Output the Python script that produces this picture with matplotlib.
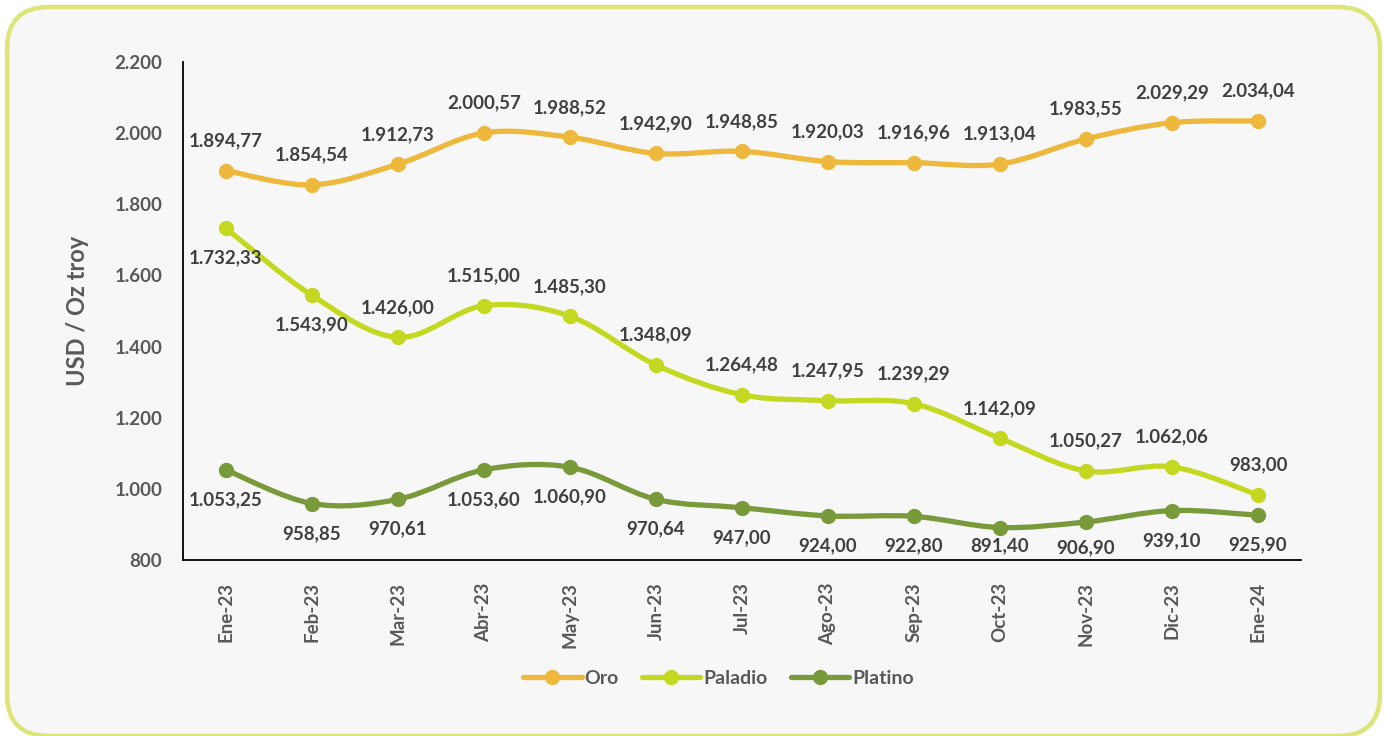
import matplotlib.pyplot as plt
import numpy as np
from matplotlib.path import Path
from matplotlib.patches import PathPatch, FancyBboxPatch
from matplotlib.lines import Line2D

plt.rcParams['font.family'] = ['Lato', 'DejaVu Sans']

meses = ['Ene-23', 'Feb-23', 'Mar-23', 'Abr-23', 'May-23', 'Jun-23', 'Jul-23',
         'Ago-23', 'Sep-23', 'Oct-23', 'Nov-23', 'Dic-23', 'Ene-24']
oro = [1894.77, 1854.54, 1912.73, 2000.57, 1988.52, 1942.90, 1948.85,
       1920.03, 1916.96, 1913.04, 1983.55, 2029.29, 2034.04]
paladio = [1732.33, 1543.90, 1426.00, 1515.00, 1485.30, 1348.09, 1264.48,
           1247.95, 1239.29, 1142.09, 1050.27, 1062.06, 983.00]
platino = [1053.25, 958.85, 970.61, 1053.60, 1060.90, 970.64, 947.00,
           924.00, 922.80, 891.40, 906.90, 939.10, 925.90]

# label above (+) or below (-) each point, as a fraction of the usual offset
pos_oro = [1] * 13
pos_paladio = [-1, -1, 1, 1, 1, 1, 1, 1, 1, 1, 1, 1, 1]
pos_platino = [-1, -1, -1, -1, -1, -1, -1, -1, -1, -0.6, -0.85, -1, -1]

c_oro = '#EDB83C'
c_pal = '#C4D821'
c_pla = '#799A3B'
txt = '#404040'
axc = '#595959'


def fmt(v):
    s = f'{v:,.2f}'
    return s.replace(',', 'X').replace('.', ',').replace('X', '.')


def smooth_path(x, y):
    # Excel-like smoothed line: cubic bezier through the points
    x = np.asarray(x, float)
    y = np.asarray(y, float)
    verts = [(x[0], y[0])]
    codes = [Path.MOVETO]
    n = len(x)
    for i in range(n - 1):
        x0, y0 = (x[i - 1], y[i - 1]) if i > 0 else (x[i], y[i])
        x3, y3 = (x[i + 2], y[i + 2]) if i + 2 < n else (x[i + 1], y[i + 1])
        c1 = (x[i] + (x[i + 1] - x0) / 6, y[i] + (y[i + 1] - y0) / 6)
        c2 = (x[i + 1] - (x3 - x[i]) / 6, y[i + 1] - (y3 - y[i]) / 6)
        verts += [c1, c2, (x[i + 1], y[i + 1])]
        codes += [Path.CURVE4] * 3
    return Path(verts, codes)


fig = plt.figure(figsize=(13.87, 7.36), dpi=100)
fig.patch.set_facecolor('white')
frame = FancyBboxPatch((0.07, 0.0), 13.73, 7.29,
                       boxstyle='round,pad=0,rounding_size=0.42',
                       transform=fig.dpi_scale_trans, facecolor='#F7F7F7',
                       edgecolor='#DCE47A', linewidth=3.2, zorder=-5)
fig.patches.append(frame)

ax = fig.add_axes([0.1319, 0.2391, 0.8061, 0.6767])
ax.set_facecolor('none')
ax.set_zorder(2)
x = np.arange(len(meses))

for vals, col, pos in [(oro, c_oro, pos_oro), (paladio, c_pal, pos_paladio),
                       (platino, c_pla, pos_platino)]:
    ax.add_patch(PathPatch(smooth_path(x, vals), facecolor='none',
                           edgecolor=col, linewidth=3.8, capstyle='round',
                           zorder=2))
    ax.plot(x, vals, linestyle='none', marker='o', markersize=10,
            color=col, zorder=3)
    for xi, v, p in zip(x, vals, pos):
        ax.annotate(fmt(v), (xi, v), xytext=(0, 21.5 * p), textcoords='offset points',
                    ha='center', va='center', fontsize=13.5, fontweight='bold',
                    color=txt, zorder=4)

ax.set_xlim(-0.5, len(meses) - 0.5)
ax.set_ylim(800, 2200)
ax.set_yticks(np.arange(800, 2201, 200))
ax.set_yticklabels([f'{int(v):,}'.replace(',', '.') for v in np.arange(800, 2201, 200)])
ax.set_xticks(x)
ax.set_xticklabels(meses, rotation=90)
ax.tick_params(axis='y', length=0, pad=15, labelsize=13.5, labelcolor=axc)
ax.tick_params(axis='x', length=0, pad=16, labelsize=13.5, labelcolor=axc)
for lab in ax.get_xticklabels() + ax.get_yticklabels():
    lab.set_fontweight('bold')
for s in ['top', 'right']:
    ax.spines[s].set_visible(False)
ax.spines['left'].set_linewidth(1.3)
ax.spines['bottom'].set_linewidth(1.3)
ax.set_ylabel('USD / Oz troy', fontsize=17, fontweight='bold', color=axc,
              labelpad=18)

handles = [Line2D([], [], color=c, linewidth=3.8, marker='o', markersize=10,
                  solid_capstyle='round') for c in (c_oro, c_pal, c_pla)]
fig.legend(handles, ['Oro', 'Paladio', 'Platino'], loc='center',
           bbox_to_anchor=(0.518, 0.078), ncol=3, frameon=False,
           handlelength=3, handletextpad=0.15, columnspacing=1.2,
           prop={'size': 14, 'weight': 'bold'}, labelcolor=axc)

fig.savefig('out.png', dpi=100, facecolor=fig.get_facecolor())
